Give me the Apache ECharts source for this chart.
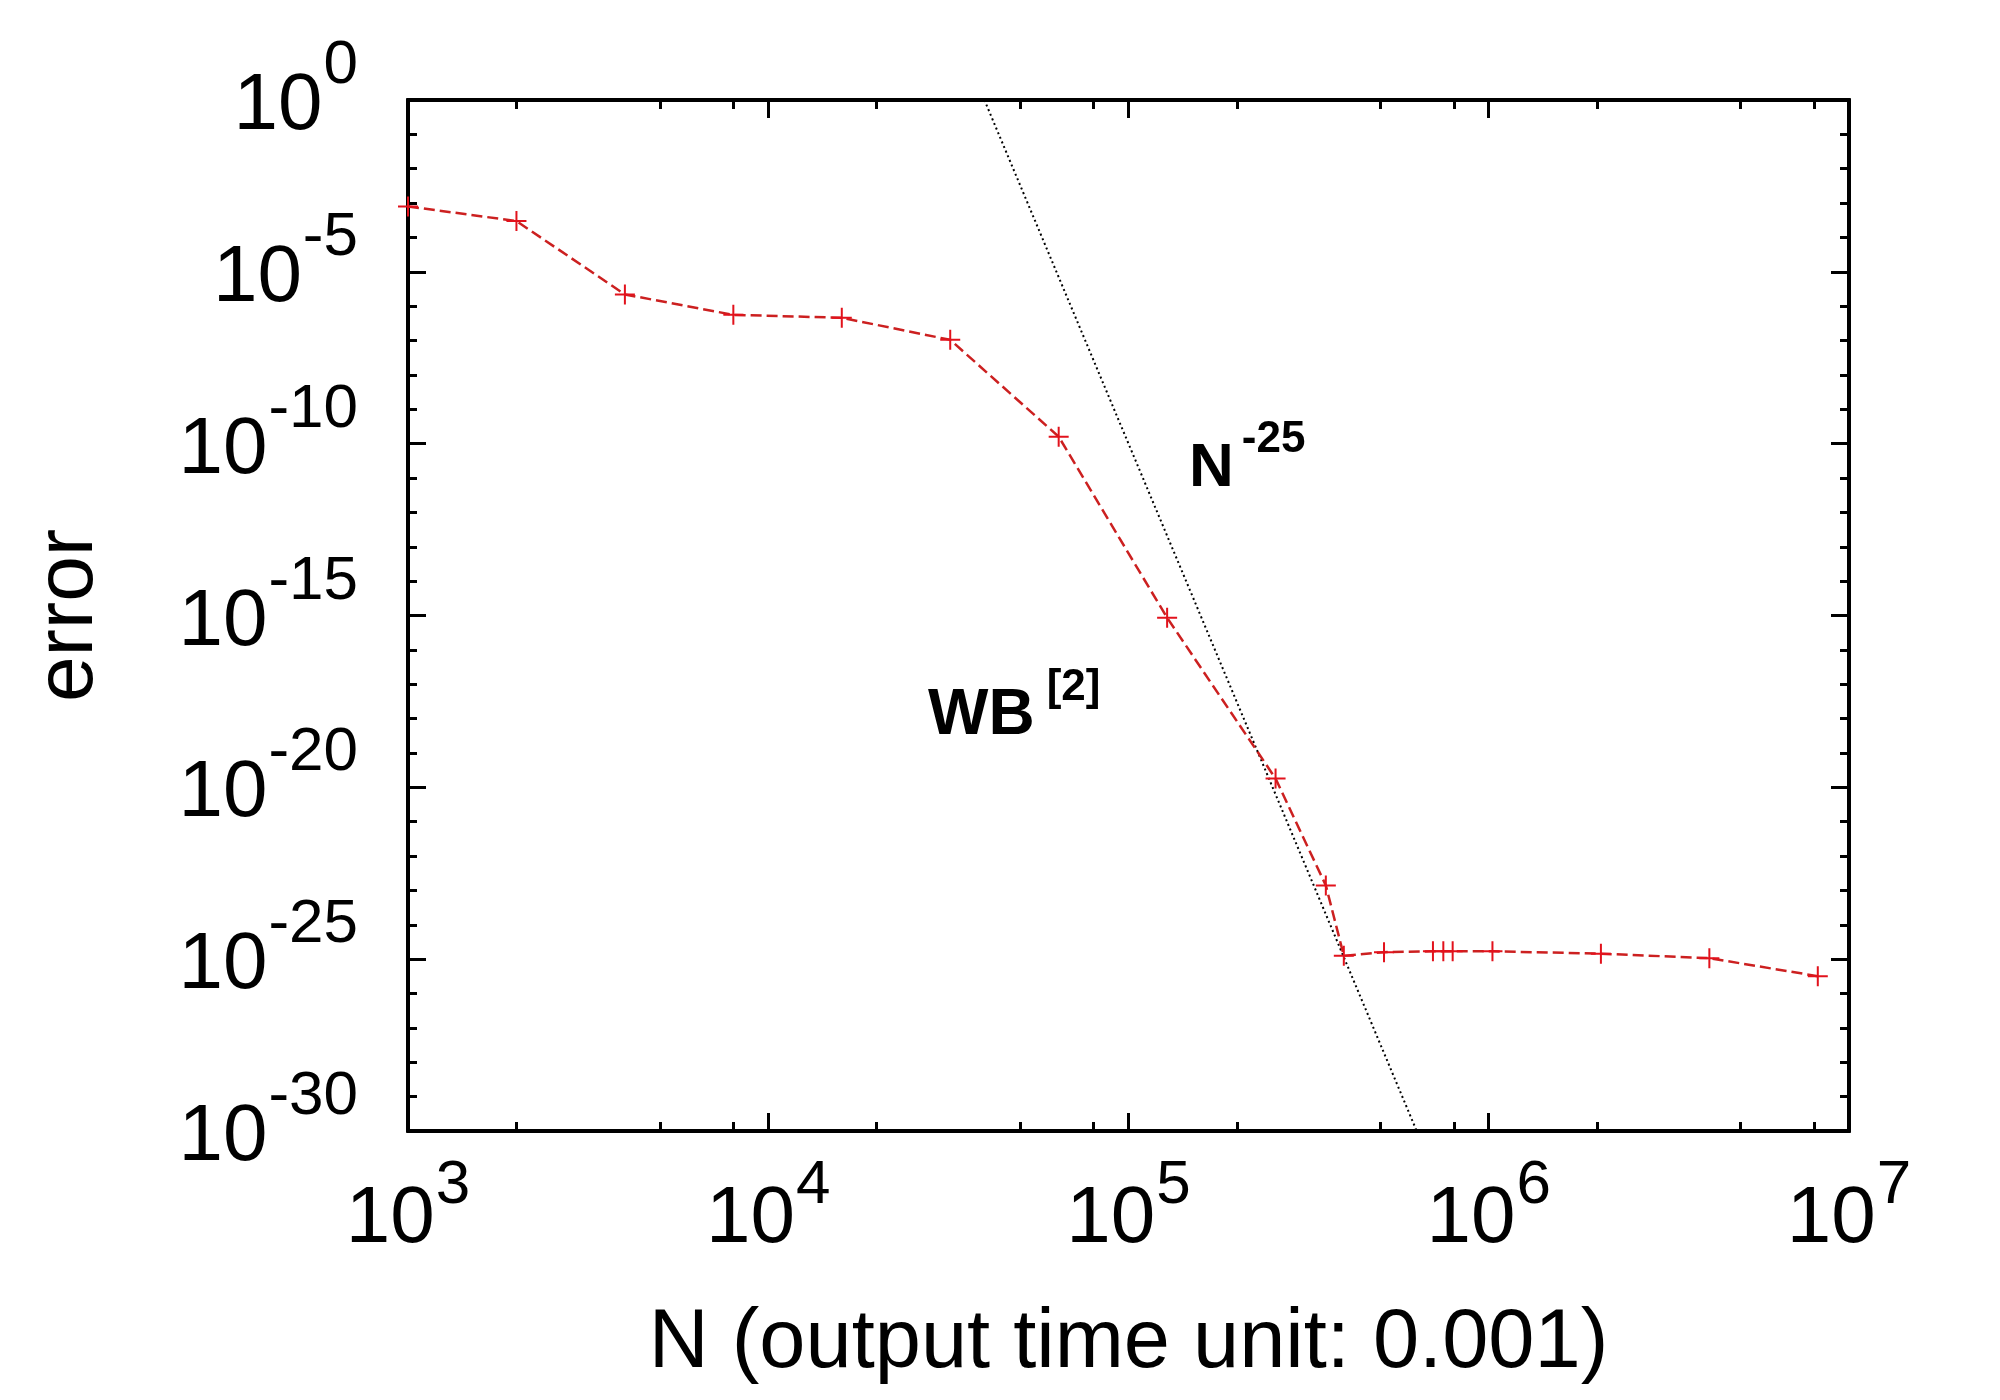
<!DOCTYPE html>
<html>
<head>
<meta charset="UTF-8">
<title>error vs N</title>
<style>
  html, body { margin: 0; padding: 0; background: #fff; }
  #main { width: 2000px; height: 1400px; }
</style>
</head>
<body>
<div id="main"></div>
<script src="https://cdn.jsdelivr.net/npm/echarts@6.0.0/dist/echarts.min.js"></script>
<script>
// measured series (N, error)
var N   = [1000, 2000, 4000, 8000, 16000, 32000, 64000, 128000, 256000, 353000, 396000,
           512000, 700000, 748000, 794000, 1024000, 2048000, 4096000, 8192000];
var err = [8e-4, 3e-4, 2.2e-6, 5.6e-7, 4.6e-7, 1.05e-7, 1.6e-10, 8.6e-16, 1.8e-20, 1.4e-23, 1.26e-25,
           1.6e-25, 1.7e-25, 1.7e-25, 1.7e-25, 1.7e-25, 1.44e-25, 1.07e-25, 3.2e-26];

// N^-25 guide line, end points
var refN   = [39811, 630957];
var refErr = [1, 1e-30];

// ticks
var xMajor = [1e3, 1e4, 1e5, 1e6, 1e7];
var xMinor = [2e3, 5e3, 8e3, 2e4, 5e4, 8e4, 2e5, 5e5, 8e5, 2e6, 5e6, 8e6];
var yMajor = [1e-30, 1e-25, 1e-20, 1e-15, 1e-10, 1e-5, 1];
var yMinor = [1e-29, 1e-28, 1e-27, 1e-26, 1e-24, 1e-23, 1e-22, 1e-21, 1e-19, 1e-18, 1e-17, 1e-16,
              1e-14, 1e-13, 1e-12, 1e-11, 1e-9, 1e-8, 1e-7, 1e-6, 1e-4, 1e-3, 1e-2, 1e-1];

function zip(a, b) {
  var out = [];
  for (var i = 0; i < a.length; i++) out.push([a[i], b[i]]);
  return out;
}
function expOf(v) { return Math.round(Math.log(v) / Math.LN10); }

// power-of-ten label: base 10 plus raised exponent
var powRich = {
  b: { fontFamily: 'Liberation Sans', fontSize: 80, color: '#000' },
  s: { fontFamily: 'Liberation Sans', fontSize: 62, color: '#000', padding: [0, 0, 68, 1] }
};
var powRichY = {
  b: { fontFamily: 'Liberation Sans', fontSize: 80, color: '#000', padding: [14, 0, 0, 0] },
  s: { fontFamily: 'Liberation Sans', fontSize: 62, color: '#000', padding: [0, 0, 68, 1] }
};
function powLabel(v) { return '{b|10}{s|' + expOf(v) + '}'; }

var myChart = echarts.init(document.getElementById('main'));

function xAx(pos, ticks, len, labels) {
  return {
    type: 'log', logBase: 10, min: 1e3, max: 1e7, position: pos,
    axisLine: { show: true, onZero: false, lineStyle: { color: '#000', width: 4 } },
    axisTick: { show: true, inside: true, length: len, customValues: ticks,
                lineStyle: { color: '#000', width: 3 } },
    axisLabel: labels ? {
      show: true, margin: 24, customValues: xMajor,
      formatter: powLabel, rich: powRich
    } : { show: false },
    splitLine: { show: false },
    name: labels ? 'N (output time unit: 0.001)' : '',
    nameLocation: 'middle', nameGap: 172,
    nameTextStyle: { fontFamily: 'Liberation Sans', fontSize: 83, color: '#000' }
  };
}
function yAx(pos, ticks, len, labels) {
  return {
    type: 'log', logBase: 10, min: 1e-30, max: 1, position: pos,
    axisLine: { show: true, onZero: false, lineStyle: { color: '#000', width: 4 } },
    axisTick: { show: true, inside: true, length: len, customValues: ticks,
                lineStyle: { color: '#000', width: 3 } },
    axisLabel: labels ? {
      show: true, margin: 50, customValues: yMajor,
      formatter: powLabel, rich: powRichY
    } : { show: false },
    splitLine: { show: false },
    name: labels ? 'error' : '',
    nameLocation: 'middle', nameGap: 298, nameRotate: 90,
    nameTextStyle: { fontFamily: 'Liberation Sans', fontSize: 82, color: '#000' }
  };
}

myChart.setOption({
  animation: false,
  backgroundColor: '#fff',
  grid: { left: 408, right: 151, top: 100, bottom: 269, containLabel: false },
  xAxis: [
    xAx('bottom', xMajor, 18, true),
    xAx('bottom', xMinor, 9, false),
    xAx('top', xMajor, 18, false),
    xAx('top', xMinor, 9, false)
  ],
  yAxis: [
    yAx('left', yMajor, 18, true),
    yAx('left', yMinor, 9, false),
    yAx('right', yMajor, 18, false),
    yAx('right', yMinor, 9, false)
  ],
  series: [
    {
      name: 'N^-25', type: 'line', data: zip(refN, refErr),
      symbol: 'none', clip: true,
      lineStyle: { color: '#000', width: 2, type: [2, 3] }
    },
    {
      name: 'WB[2]', type: 'line', data: zip(N, err),
      symbol: 'path://M-1,-10H1V-1H10V1H1V10H-1V1H-10V-1H-1Z', symbolSize: 20,
      showSymbol: true, clip: false,
      itemStyle: { color: '#e2121c' },
      lineStyle: { color: '#cc2020', width: 2.5, type: [11, 5] }
    }
  ],
  graphic: [
    {
      type: 'text', x: 1189, y: 520,
      style: {
        text: '{b|N}{s|-25}', verticalAlign: 'bottom', align: 'left',
        rich: {
          b: { fontFamily: 'Liberation Sans', fontWeight: 'bold', fontSize: 62, fill: '#000' },
          s: { fontFamily: 'Liberation Sans', fontWeight: 'bold', fontSize: 44, fill: '#000', padding: [0, 0, 58, 8] }
        }
      }
    },
    {
      type: 'text', x: 928, y: 766,
      style: {
        text: '{b|WB}{s|[2]}', verticalAlign: 'bottom', align: 'left',
        rich: {
          b: { fontFamily: 'Liberation Sans', fontWeight: 'bold', fontSize: 64, fill: '#000' },
          s: { fontFamily: 'Liberation Sans', fontWeight: 'bold', fontSize: 44, fill: '#000', padding: [0, 0, 56, 12] }
        }
      }
    }
  ]
});
</script>
</body>
</html>
